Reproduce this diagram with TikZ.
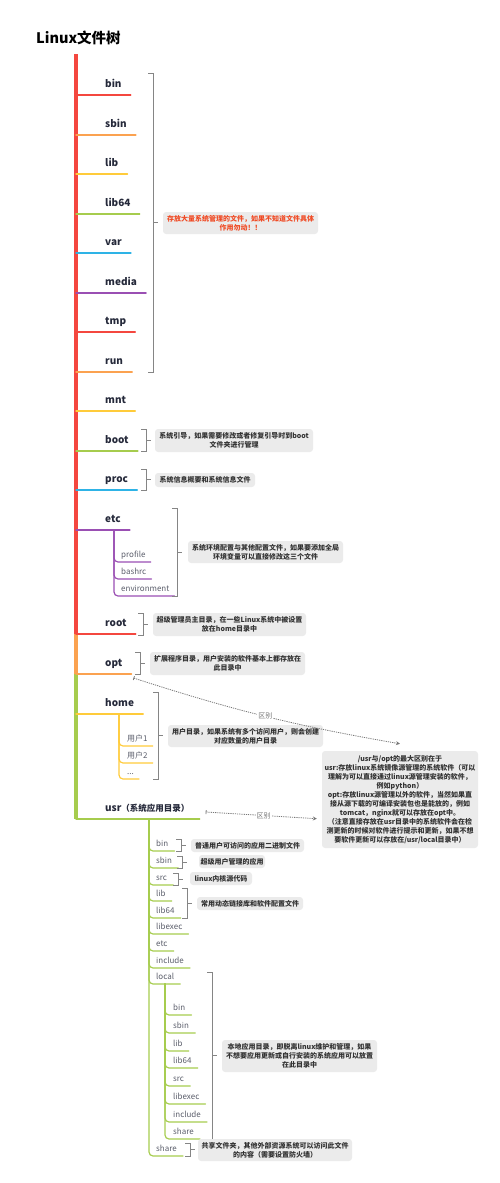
\documentclass[tikz,border=0pt]{standalone}
\usepackage{fontspec}
\setmainfont{Noto Sans CJK SC}
\usetikzlibrary{arrows.meta}
\definecolor{cR}{HTML}{F4473F}
\definecolor{cO}{HTML}{FBA250}
\definecolor{cY}{HTML}{FFCB3A}
\definecolor{cG}{HTML}{A6CC4E}
\definecolor{cB}{HTML}{2EB3E6}
\definecolor{cP}{HTML}{9A4FB3}
\definecolor{cLbl}{HTML}{25293A}
\definecolor{cSub}{HTML}{5A5D6A}
\definecolor{cBrk}{HTML}{858585}
\definecolor{cBox}{HTML}{EBEBEB}
\definecolor{cTxt}{HTML}{333333}
\definecolor{cNote}{HTML}{F04A24}
\definecolor{cDash}{HTML}{777777}
\begin{document}
\begin{tikzpicture}[x=1pt, y=-1pt,
  dir/.style={font=\fontsize{10}{12}\selectfont\bfseries, text=cLbl, anchor=south west, inner xsep=0, inner ysep=7, text depth=0pt},
  sub/.style={font=\fontsize{8}{10}\selectfont, text=cSub, anchor=south west, inner xsep=0, inner ysep=4, text depth=0pt},
  br/.style={line width=1.4, line cap=round},
  sbr/.style={line width=1.2, line cap=round, rounded corners=4},
  trunkline/.style={line width=4},
  brk/.style={draw=cBrk, line width=0.9},
  note/.style={fill=cBox, rounded corners=3, font=\fontsize{7}{9}\selectfont\bfseries, text=cTxt, align=center, inner sep=0},
  diff/.style={draw=cDash, line width=0.8, dash pattern=on 1.2pt off 1pt, {Bar[width=4pt]}-{Stealth[length=4pt, width=4pt]}},
  difflbl/.style={fill=white, font=\fontsize{7}{8}\selectfont, text=cDash, inner sep=1}]
\useasboundingbox (0,0) rectangle (500,1183);
% title
\node[font=\fontsize{14.5}{16}\selectfont\bfseries, anchor=west, inner sep=0] (title) at (36,38) {Linux文件树};
\coordinate (trunk) at (76,54);
% main branches
\node[dir] (bin) at (105,95) {bin};
\node[dir] (sbin) at (105,135) {sbin};
\node[dir] (lib) at (105,174) {lib};
\node[dir] (lib64) at (105,214) {lib64};
\node[dir] (var) at (105,253) {var};
\node[dir] (media) at (105,293) {media};
\node[dir] (tmp) at (105,332) {tmp};
\node[dir] (run) at (105,372) {run};
\node[dir] (mnt) at (105,411) {mnt};
\node[dir] (boot) at (105,451) {boot};
\node[dir] (proc) at (105,490) {proc};
\node[dir] (etc) at (105,530) {etc};
\node[dir] (root) at (105,634) {root};
\node[dir] (opt) at (105,674) {opt};
\node[dir] (home) at (105,714) {home};
\node[dir] (usr) at (105,819) {usr{\fontsize{8.5}{11}\selectfont（系统应用目录）}};
\draw[trunkline, cR] (trunk) -- (trunk |- root.south);
\draw[trunkline, cO] (trunk |- root.south) -- (trunk |- opt.south);
\draw[trunkline, cG] (trunk |- opt.south) -- (trunk |- usr.south);
\draw[br, cR] (trunk |- bin.south) -- ([xshift=9]bin.south east);
\draw[br, cO] (trunk |- sbin.south) -- ([xshift=9]sbin.south east);
\draw[br, cY] (trunk |- lib.south) -- ([xshift=9]lib.south east);
\draw[br, cG] (trunk |- lib64.south) -- ([xshift=9]lib64.south east);
\draw[br, cB] (trunk |- var.south) -- ([xshift=9]var.south east);
\draw[br, cP] (trunk |- media.south) -- ([xshift=9]media.south east);
\draw[br, cR] (trunk |- tmp.south) -- ([xshift=9]tmp.south east);
\draw[br, cO] (trunk |- run.south) -- ([xshift=9]run.south east);
\draw[br, cY] (trunk |- mnt.south) -- ([xshift=9]mnt.south east);
\draw[br, cG] (trunk |- boot.south) -- ([xshift=9]boot.south east);
\draw[br, cB] (trunk |- proc.south) -- ([xshift=9]proc.south east);
\draw[br, cP] (trunk |- etc.south) -- ([xshift=9]etc.south east);
\draw[br, cR] (trunk |- root.south) -- ([xshift=9]root.south east);
\draw[br, cO] (trunk |- opt.south) -- ([xshift=9]opt.south east) coordinate (opt-e);
\draw[br, cY] (trunk |- home.south) -- ([xshift=9]home.south east);
\draw[br, cG] (trunk |- usr.south) -- ([xshift=10]usr.south east) coordinate (usr-e);
% etc children
\coordinate (etc-j) at (114,530);
\node[sub] (profile) at (121,562) {profile};
\node[sub] (bashrc) at (121,579) {bashrc};
\node[sub] (environment) at (121,596) {environment};
\draw[sbr, cP] (etc-j) |- ([xshift=5]profile.south east);
\draw[sbr, cP] (etc-j) |- ([xshift=5]bashrc.south east);
\draw[sbr, cP] (etc-j) |- ([xshift=5]environment.south east);
% home children
\coordinate (home-j) at (119,714);
\node[sub] (user1) at (127,746) {用户1};
\node[sub] (user2) at (127,763) {用户2};
\node[sub] (userx) at (127,779) {...};
\draw[sbr, cY] (home-j) |- ([xshift=5]user1.south east);
\draw[sbr, cY] (home-j) |- ([xshift=5]user2.south east);
\draw[sbr, cY] (home-j) |- ([xshift=5]userx.south east);
% usr children
\coordinate (usr-j) at (149,819);
\node[sub] (ubin) at (156,851) {bin};
\node[sub] (usbin) at (156,868) {sbin};
\node[sub] (usrc) at (156,885) {src};
\node[sub] (ulib) at (156,901) {lib};
\node[sub] (ulib64) at (156,918) {lib64};
\node[sub] (ulibexec) at (156,934) {libexec};
\node[sub] (uetc) at (156,951) {etc};
\node[sub] (uinclude) at (156,968) {include};
\node[sub] (local) at (156,984) {local};
\node[sub] (ushare) at (156,1156) {share};
\draw[sbr, cG] (usr-j) |- ([xshift=6]ubin.south east);
\draw[sbr, cG] (usr-j) |- ([xshift=6]usbin.south east);
\draw[sbr, cG] (usr-j) |- ([xshift=6]usrc.south east);
\draw[sbr, cG] (usr-j) |- ([xshift=6]ulib.south east);
\draw[sbr, cG] (usr-j) |- ([xshift=6]ulib64.south east);
\draw[sbr, cG] (usr-j) |- ([xshift=6]ulibexec.south east);
\draw[sbr, cG] (usr-j) |- ([xshift=6]uetc.south east);
\draw[sbr, cG] (usr-j) |- ([xshift=6]uinclude.south east);
\draw[sbr, cG] (usr-j) |- ([xshift=6]local.south east);
\draw[sbr, cG] (usr-j) |- ([xshift=6]ushare.south east);
% local children
\coordinate (loc-j) at (165,984);
\node[sub] (lbin) at (173,1015) {bin};
\node[sub] (lsbin) at (173,1033) {sbin};
\node[sub] (llib) at (173,1051) {lib};
\node[sub] (llib64) at (173,1068) {lib64};
\node[sub] (lsrc) at (173,1086) {src};
\node[sub] (llibexec) at (173,1104) {libexec};
\node[sub] (linclude) at (173,1122) {include};
\node[sub] (lshare) at (173,1139) {share};
\draw[sbr, cG] (loc-j) |- ([xshift=6]lbin.south east);
\draw[sbr, cG] (loc-j) |- ([xshift=6]lsbin.south east);
\draw[sbr, cG] (loc-j) |- ([xshift=6]llib.south east);
\draw[sbr, cG] (loc-j) |- ([xshift=6]llib64.south east);
\draw[sbr, cG] (loc-j) |- ([xshift=6]lsrc.south east);
\draw[sbr, cG] (loc-j) |- ([xshift=6]llibexec.south east);
\draw[sbr, cG] (loc-j) |- ([xshift=6]linclude.south east);
\draw[sbr, cG] (loc-j) |- ([xshift=6]lshare.south east);
% brackets
\draw[brk] (148,73) -- (153,73) -- (153,372) -- (148,372) (153,222.5) -- (158,222.5);
\draw[brk] (141,429) -- (146,429) -- (146,451) -- (141,451) (146,440) -- (151,440);
\draw[brk] (141,469) -- (146,469) -- (146,490) -- (141,490) (146,479.5) -- (151,479.5);
\draw[brk] (172,508) -- (177,508) -- (177,596) -- (172,596) (177,552) -- (182,552);
\draw[brk] (138,613) -- (143,613) -- (143,635) -- (138,635) (143,624) -- (148,624);
\draw[brk] (135,652) -- (140,652) -- (140,674) -- (135,674) (140,663) -- (145,663);
\draw[brk] (153,692) -- (158,692) -- (158,779) -- (153,779) (158,735.5) -- (163,735.5);
\draw[brk] (176,839) -- (181,839) -- (181,851) -- (176,851) (181,845) -- (186,845);
\draw[brk] (177,856) -- (182,856) -- (182,868) -- (177,868) (182,862) -- (187,862);
\draw[brk] (173,873) -- (178,873) -- (178,885) -- (173,885) (178,879) -- (183,879);
\draw[brk] (182,888) -- (187,888) -- (187,918) -- (182,918) (187,903) -- (192,903);
\draw[brk] (207,972) -- (212,972) -- (212,1139) -- (207,1139) (212,1055.5) -- (217,1055.5);
\draw[brk] (185,1143) -- (190,1143) -- (190,1156) -- (185,1156) (190,1149.5) -- (195,1149.5);
% notes
\node[note, text=cNote, minimum width=155, minimum height=22] (n-sys) at (240.5,223) {存放大量系统管理的文件，如果不知道文件具体\\作用勿动！！};
\node[note, minimum width=158, minimum height=23] (n-boot) at (234,440.5) {系统引导，如果需要修改或者修复引导时到boot\\文件夹进行管理};
\node[note, minimum width=100, minimum height=14] (n-proc) at (205,480) {系统信息概要和系统信息文件};
\node[note, minimum width=155, minimum height=22] (n-etc) at (265.5,552) {系统环境配置与其他配置文件，如果要添加全局\\环境变量可以直接修改这三个文件};
\node[note, minimum width=153, minimum height=23] (n-root) at (229.5,624.5) {超级管理员主目录，在一些Linux系统中被设置\\放在home目录中};
\node[note, minimum width=155, minimum height=23] (n-opt) at (227.5,663.5) {扩展程序目录，用户安装的软件基本上都存放在\\此目录中};
\node[note, minimum width=155, minimum height=22] (n-home) at (245.5,736) {用户目录，如果系统有多个访问用户，则会创建\\对应数量的用户目录};
\node[note, minimum width=156, minimum height=97] (cmp) at (400,799.5) {/usr与/opt的最大区别在于\\usr:存放linux系统镜像源管理的系统软件（可以\\理解为可以直接通过linux源管理安装的软件，\\例如python）\\opt:存放linux源管理以外的软件，当然如果直\\接从源下载的可编译安装包也是能放的，例如\\tomcat，nginx就可以存放在opt中。\\（注意直接存放在usr目录中的系统软件会在检\\测更新的时候对软件进行提示和更新，如果不想\\要软件更新可以存放在/usr/local目录中）};
\node[note, minimum width=113, minimum height=13] (n-ubin) at (247.5,845.5) {普通用户可访问的应用二进制文件};
\node[note, minimum width=66, minimum height=13] (n-usbin) at (232,861.5) {超级用户管理的应用};
\node[note, minimum width=62, minimum height=13] (n-usrc) at (221,878.5) {linux内核源代码};
\node[note, minimum width=106, minimum height=13] (n-ulib) at (250,903.5) {常用动态链接库和软件配置文件};
\node[note, minimum width=155, minimum height=32] (n-local) at (299.5,1056) {本地应用目录，即脱离linux维护和管理，如果\\不想要应用更新或自行安装的系统应用可以放置\\在此目录中};
\node[note, minimum width=154, minimum height=22] (n-ushare) at (275,1150) {共享文件夹，其他外部资源系统可以访问此文件\\的内容（需要设置防火墙）};
% usr vs opt
\draw[diff] ([shift={(2pt,-4pt)}]opt-e) to[bend right=4] node[difflbl] {区别} ([yshift=7pt]cmp.north);
\draw[diff, shorten >=5pt] ([shift={(6pt,7pt)}]usr-e) -- node[difflbl] {区别} (cmp.west |- usr-e);
\end{tikzpicture}
\end{document}
